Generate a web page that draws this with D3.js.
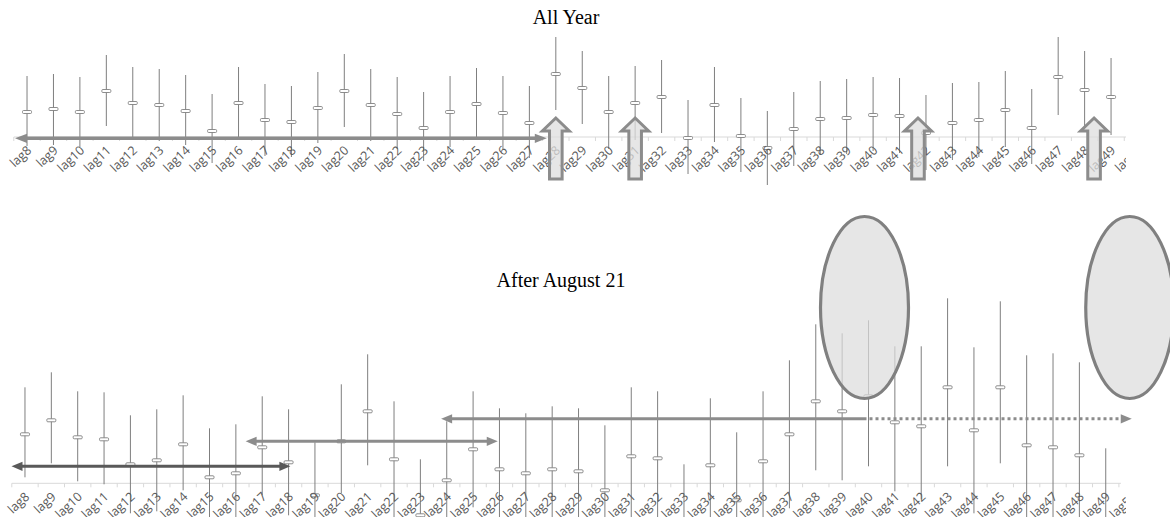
<!DOCTYPE html>
<html>
<head>
<meta charset="utf-8">
<script src="https://cdn.jsdelivr.net/npm/d3@7"></script>
<style>
  html, body { margin: 0; padding: 0; background: #fff; }
  svg { display: block; }
</style>
</head>
<body>
<svg id="chart" width="1170" height="517"></svg>
<script>
// Lag categories shown on both panels (lag50 is only partly in view)
const lags = ["lag8","lag9","lag10","lag11","lag12","lag13","lag14","lag15","lag16","lag17",
  "lag18","lag19","lag20","lag21","lag22","lag23","lag24","lag25","lag26","lag27",
  "lag28","lag29","lag30","lag31","lag32","lag33","lag34","lag35","lag36","lag37",
  "lag38","lag39","lag40","lag41","lag42","lag43","lag44","lag45","lag46","lag47",
  "lag48","lag49","lag50"];

// All Year: point estimates and interval bounds, lag8..lag49
const allYearEst = [0.25,0.28,0.25,0.46,0.34,0.32,0.26,0.06,0.34,0.17,
  0.15,0.29,0.46,0.32,0.23,0.09,0.25,0.33,0.24,0.14,
  0.63,0.49,0.25,0.34,0.40,-0.01,0.32,0.01,-0.11,0.08,
  0.18,0.19,0.22,0.21,0.04,0.14,0.17,0.27,0.09,0.60,
  0.47,0.40];
const allYearLow = [-0.09,-0.08,-0.10,0.11,-0.02,-0.04,-0.08,-0.26,-0.02,-0.19,
  -0.20,-0.06,0.10,-0.04,-0.12,-0.24,-0.10,-0.03,-0.12,-0.21,
  0.27,0.13,-0.12,-0.03,0.04,-0.37,-0.05,-0.35,-0.48,-0.29,
  -0.18,-0.17,-0.14,-0.16,-0.33,-0.23,-0.20,-0.10,-0.27,0.22,
  0.08,0.02];
const allYearHigh = [0.61,0.63,0.60,0.82,0.70,0.68,0.62,0.43,0.70,0.53,
  0.51,0.65,0.83,0.68,0.60,0.45,0.61,0.69,0.61,0.51,
  1.00,0.86,0.61,0.71,0.77,0.37,0.70,0.39,0.26,0.45,
  0.56,0.58,0.60,0.59,0.42,0.54,0.55,0.66,0.48,1.00,
  0.86,0.79];

// After August 21: point estimates and interval bounds, lag8..lag49
const augEst = [0.49,0.63,0.46,0.44,0.19,0.23,0.39,0.06,0.10,0.36,
  0.21,-0.12,0.42,0.72,0.24,-0.32,0.03,0.34,0.14,0.10,
  0.14,0.12,-0.07,0.27,0.25,-0.45,0.18,-0.17,0.22,0.49,
  0.82,0.72,0.87,0.61,0.57,0.96,0.53,0.96,0.38,0.36,
  0.28,-0.55];
const augLow = [0.06,0.20,0.02,-0.01,-0.30,-0.28,-0.07,-0.43,-0.39,-0.12,
  -0.32,-0.65,-0.10,0.18,-0.34,-0.88,-0.56,-0.24,-0.46,-0.50,
  -0.48,-0.51,-0.72,-0.42,-0.42,-1.09,-0.49,-0.87,-0.48,-0.25,
  0.13,0.03,0.17,-0.08,-0.16,0.17,-0.30,0.20,-0.52,-0.58,
  -0.65,-1.45];
const augHigh = [0.96,1.11,0.92,0.91,0.68,0.74,0.88,0.55,0.59,0.87,
  0.74,0.41,0.99,1.29,0.82,0.24,0.62,0.92,0.75,0.70,
  0.77,0.75,0.58,0.96,0.92,0.19,0.85,0.51,0.92,1.23,
  1.59,1.50,1.63,1.37,1.37,1.85,1.36,1.82,1.28,1.30,
  1.21,0.35];

const panelTitles = ["All Year", "After August 21"];

const svg = d3.select("#chart");
svg.append("rect").attr("width", 1170).attr("height", 517).attr("fill", "#fff");

const defs = svg.append("defs");
defs.append("clipPath").attr("id", "plotClip")
  .append("rect").attr("x", 0).attr("y", 0).attr("width", 1126).attr("height", 517);

// Draws one interval panel and returns its scales
function drawPanel(cfg) {
  const x = d3.scaleBand().domain(lags).range(cfg.xRange).paddingInner(0).paddingOuter(0);
  const y = d3.scaleLinear().domain(cfg.yDomain).range(cfg.yRange);
  const bw = x.bandwidth();
  const cx = d => x(d) + bw / 2;
  const rows = cfg.est.map((e, i) => ({ lag: lags[i], est: e, lo: cfg.low[i], hi: cfg.high[i] }));

  const g = svg.append("g").attr("clip-path", "url(#plotClip)");

  // category axis: baseline at zero with boundary ticks
  const y0 = y(0);
  const lastEdge = x(lags[lags.length - 2]) + bw;
  g.append("line")
    .attr("x1", cfg.xRange[0]).attr("x2", lastEdge + 2)
    .attr("y1", y0).attr("y2", y0)
    .attr("stroke", "#d9d9d9").attr("stroke-width", 1);
  g.selectAll(null).data(lags.slice(0, lags.length - 1).concat(["end"]))
    .enter().append("line")
    .attr("x1", (d, i) => cfg.xRange[0] + i * bw)
    .attr("x2", (d, i) => cfg.xRange[0] + i * bw)
    .attr("y1", y0).attr("y2", y0 + 4)
    .attr("stroke", "#d9d9d9").attr("stroke-width", 1);

  // interval whiskers
  g.selectAll(null).data(rows).enter().append("line")
    .attr("x1", d => cx(d.lag)).attr("x2", d => cx(d.lag))
    .attr("y1", d => y(d.hi)).attr("y2", d => y(d.lo))
    .attr("stroke", "#7f7f7f").attr("stroke-width", 1);

  // point estimates
  g.selectAll(null).data(rows).enter().append("rect")
    .attr("x", d => cx(d.lag) - 4.5).attr("y", d => y(d.est) - 1.5)
    .attr("width", 9).attr("height", 3).attr("rx", 1)
    .attr("fill", "#fff").attr("stroke", "#808080").attr("stroke-width", 0.9);

  // rotated category labels
  g.selectAll(null).data(lags).enter().append("text")
    .attr("transform", d => `translate(${cx(d) + 3},${y0 + 12}) rotate(-43)`)
    .attr("text-anchor", "end")
    .attr("dominant-baseline", "middle")
    .attr("font-family", "'Open Sans', 'Liberation Sans', sans-serif")
    .attr("font-size", 12.5)
    .attr("fill", "#595959")
    .text(d => d);

  // panel title
  svg.append("text")
    .attr("x", cfg.titleX).attr("y", cfg.titleY)
    .attr("text-anchor", "middle")
    .attr("font-family", "'Liberation Serif', 'Times New Roman', serif")
    .attr("font-size", 20)
    .attr("fill", "#000")
    .text(cfg.title);

  return { x, y, cx };
}

const topPanel = drawPanel({
  xRange: [13.8, 13.8 + 43 * 26.44], yDomain: [-0.5, 1.0], yRange: [187, 37],
  est: allYearEst, low: allYearLow, high: allYearHigh,
  title: panelTitles[0], titleX: 566, titleY: 24
});
const botPanel = drawPanel({
  xRange: [11.8, 11.8 + 43 * 26.36], yDomain: [-0.4, 2.0], yRange: [523.3, 283.3],
  est: augEst, low: augLow, high: augHigh,
  title: panelTitles[1], titleX: 561, titleY: 287
});

// ---- annotation shapes ----
const ann = svg.append("g");

// horizontal arrow with optional heads and an optional dotted tail
function hArrow(x1, x2, yy, color, opts) {
  const o = Object.assign({ width: 3.2, headLen: 11, headHalf: 4.6, left: true, right: true, dotFrom: null }, opts);
  const sx1 = o.left ? x1 + o.headLen - 1 : x1;
  const sx2 = o.right ? x2 - o.headLen + 1 : x2;
  if (o.dotFrom == null) {
    ann.append("line").attr("x1", sx1).attr("x2", sx2).attr("y1", yy).attr("y2", yy)
      .attr("stroke", color).attr("stroke-width", o.width);
  } else {
    ann.append("line").attr("x1", sx1).attr("x2", o.dotFrom).attr("y1", yy).attr("y2", yy)
      .attr("stroke", color).attr("stroke-width", o.width);
    ann.append("line").attr("x1", o.dotFrom + 3).attr("x2", sx2 - 2).attr("y1", yy).attr("y2", yy)
      .attr("stroke", color).attr("stroke-width", o.width)
      .attr("stroke-dasharray", "3,3");
  }
  if (o.left) {
    ann.append("path")
      .attr("d", `M${x1},${yy} L${x1 + o.headLen},${yy - o.headHalf} L${x1 + o.headLen},${yy + o.headHalf} Z`)
      .attr("fill", color);
  }
  if (o.right) {
    ann.append("path")
      .attr("d", `M${x2},${yy} L${x2 - o.headLen},${yy - o.headHalf} L${x2 - o.headLen},${yy + o.headHalf} Z`)
      .attr("fill", color);
  }
}

// hollow block arrow pointing up
function blockArrow(cx, tipY, baseY) {
  const hh = 13, hw = 13.5, sw = 6.3;
  const hb = tipY + hh;
  ann.append("path")
    .attr("d", `M${cx},${tipY} L${cx + hw},${hb} L${cx + sw},${hb} L${cx + sw},${baseY} L${cx - sw},${baseY} L${cx - sw},${hb} L${cx - hw},${hb} Z`)
    .attr("fill", "#dedede").attr("fill-opacity", 0.75)
    .attr("stroke", "#8c8c8c").attr("stroke-width", 3)
    .attr("stroke-linejoin", "miter");
}

// All Year: range arrow along the axis and the four highlighted lags
hArrow(topPanel.x.range()[0] + 1.2, topPanel.cx("lag28") - 9, topPanel.y(0) + 1.3, "#8c8c8c", { width: 3.4, headLen: 12, headHalf: 4.6 });
[["lag28", 0], ["lag31", 0], ["lag42", -8], ["lag49", -17]].forEach(([lag, dx]) => {
  blockArrow(topPanel.cx(lag) + dx, topPanel.y(0.19), topPanel.y(-0.42));
});

// After August 21: ranges and highlighted areas
hArrow(botPanel.x.range()[0] - 0.3, botPanel.cx("lag18") + 1.8, botPanel.y(0.17), "#595959", { width: 3, headLen: 11, headHalf: 4.6 });
hArrow(botPanel.cx("lag17") - 16.6, botPanel.cx("lag26") - 1.7, botPanel.y(0.42), "#8c8c8c", { width: 3, headLen: 11, headHalf: 4.6 });
hArrow(botPanel.cx("lag24") - 5.6, botPanel.cx("lag49") + 26, botPanel.y(0.645), "#8c8c8c",
  { width: 3, headLen: 11, headHalf: 4.6, dotFrom: botPanel.cx("lag40") - 2 });

[["lag40", -4], ["lag49", 24]].forEach(([lag, dx]) => {
  ann.append("ellipse")
    .attr("cx", botPanel.cx(lag) + dx).attr("cy", botPanel.y(1.758))
    .attr("rx", 44).attr("ry", 91)
    .attr("fill", "#dcdcdc").attr("fill-opacity", 0.72)
    .attr("stroke", "#808080").attr("stroke-width", 3.2);
});
</script>
</body>
</html>
